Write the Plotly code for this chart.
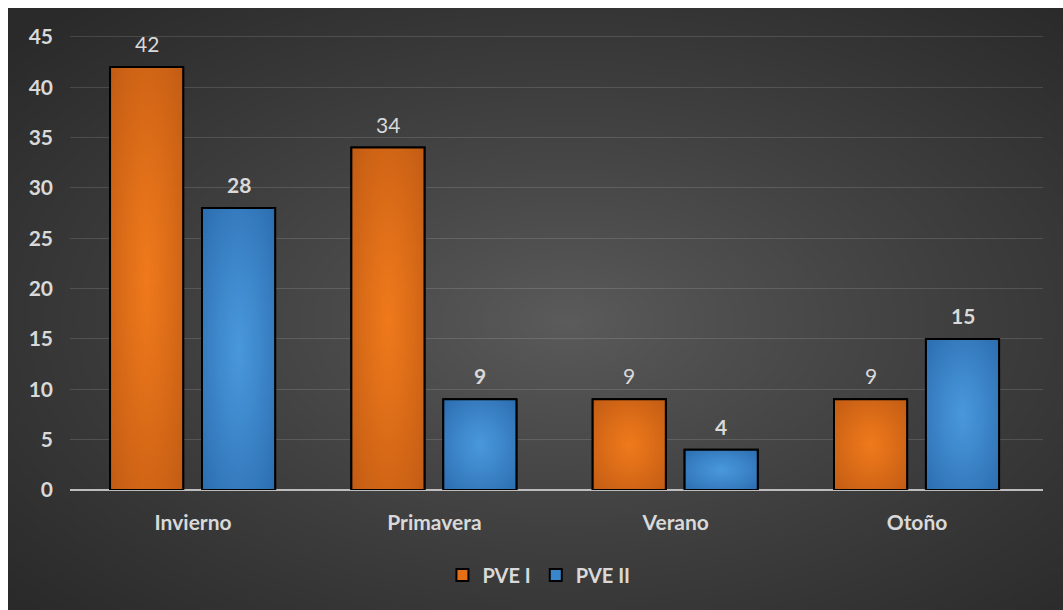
import base64
import struct
import zlib

import numpy as np
import plotly.graph_objects as go

# ---- data ----
seasons = ["Invierno", "Primavera", "Verano", "Otoño"]
pve_1 = [42, 34, 9, 9]
pve_2 = [28, 9, 4, 15]
y_ticks = [0, 5, 10, 15, 20, 25, 30, 35, 40, 45]

# ---- geometry / style ----
W, H = 1063, 610
BAR_W = 0.303
OFFSETS = {"PVE I": -0.344, "PVE II": 0.037}
FONT = "Lato"
TXT = "#d9d9d9"


def png_uri(rgb):
    """Encode an HxWx3 uint8 array as a PNG data URI (no external deps)."""
    h, w, _ = rgb.shape
    raw = b"".join(b"\x00" + rgb[r].tobytes() for r in range(h))

    def chunk(tag, data):
        body = struct.pack(">I", len(data)) + tag + data
        return body + struct.pack(">I", zlib.crc32(tag + data) & 0xFFFFFFFF)

    png = (b"\x89PNG\r\n\x1a\n"
           + chunk(b"IHDR", struct.pack(">IIBBBBB", w, h, 8, 2, 0, 0, 0))
           + chunk(b"IDAT", zlib.compress(raw, 9))
           + chunk(b"IEND", b""))
    return "data:image/png;base64," + base64.b64encode(png).decode()


def radial(w, h, inner, outer, cx=0.5, cy=0.5, power=1.0):
    yy, xx = np.mgrid[0:h, 0:w]
    dx = (xx + 0.5) / w - cx
    dy = (yy + 0.5) / h - cy
    d = np.sqrt((dx / 0.5) ** 2 + (dy / 0.5) ** 2) / np.sqrt(2)
    d = np.clip(d, 0, 1) ** power
    inner = np.array(inner, float)
    outer = np.array(outer, float)
    img = inner[None, None, :] * (1 - d[..., None]) + outer[None, None, :] * d[..., None]
    return np.clip(img, 0, 255).astype(np.uint8)


bg_uri = png_uri(radial(420, 240, (92, 92, 92), (42, 42, 42), cx=0.53, cy=0.52, power=0.85))
orange_uri = png_uri(radial(40, 120, (240, 122, 28), (194, 92, 20), power=1.1))
blue_uri = png_uri(radial(40, 120, (74, 152, 221), (44, 110, 176), power=1.1))

idx = np.arange(len(seasons))

fig = go.Figure()
series = [("PVE I", pve_1, "#e56f17", orange_uri, False),
          ("PVE II", pve_2, "#3a86cb", blue_uri, True)]

for name, vals, color, uri, bold in series:
    fig.add_trace(go.Bar(
        name=name, x=idx, y=vals, width=BAR_W, offset=OFFSETS[name],
        marker=dict(color=color, line=dict(color="#000000", width=2)),
        hoverinfo="x+y",
    ))

images = [dict(source=bg_uri, xref="paper", yref="paper",
               x=8 / W, y=1 - 8 / H, sizex=1 - 8 / W, sizey=1 - 8 / H,
               xanchor="left", yanchor="top", sizing="stretch", layer="below")]
shapes = []
annotations = []
for name, vals, color, uri, bold in series:
    for i, v in zip(idx, vals):
        x0 = i + OFFSETS[name]
        images.append(dict(source=uri, xref="x", yref="y", x=x0, y=v,
                           sizex=BAR_W, sizey=v, xanchor="left", yanchor="top",
                           sizing="stretch", layer="above"))
        shapes.append(dict(type="rect", xref="x", yref="y", x0=x0, x1=x0 + BAR_W,
                           y0=0, y1=v, line=dict(color="#000000", width=2),
                           fillcolor="rgba(0,0,0,0)", layer="above"))
        annotations.append(dict(
            x=x0 + BAR_W / 2, y=v, xref="x", yref="y", yanchor="bottom",
            yshift=9, showarrow=False,
            text=f"<b>{v}</b>" if bold else str(v),
            font=dict(family=FONT, size=21, color=TXT)))

fig.update_layout(
    width=W, height=H,
    margin=dict(l=0, r=0, t=0, b=0, autoexpand=False),
    paper_bgcolor="#ffffff",
    plot_bgcolor="rgba(0,0,0,0)",
    images=images, shapes=shapes, annotations=annotations,
    barmode="group",
    showlegend=True,
    legend=dict(orientation="h", x=0.507, xanchor="center", y=1 - 575 / H,
                yanchor="middle", bgcolor="rgba(0,0,0,0)",
                font=dict(family=FONT, size=20, color=TXT, weight="bold"),
                itemwidth=30, traceorder="normal"),
    font=dict(family=FONT, color=TXT),
)

fig.update_xaxes(
    domain=[70 / W, 1042.5 / W], range=[-0.51, 3.52], automargin=False,
    tickvals=idx, ticktext=seasons, ticks="", showgrid=False,
    zeroline=False, showline=False, ticklabelstandoff=18,
    tickfont=dict(family=FONT, size=21, color=TXT, weight="bold"),
)
fig.update_yaxes(
    domain=[1 - 490 / H, 1 - 32.8 / H], range=[0, 45.4], automargin=False,
    tickvals=y_ticks, ticks="", showgrid=True,
    gridcolor="rgba(255,255,255,0.13)", gridwidth=1,
    zeroline=True, zerolinecolor="#bdbdbd", zerolinewidth=2,
    showline=False, ticklabelstandoff=16,
    tickfont=dict(family=FONT, size=21, color=TXT, weight="bold"),
)

fig.write_html("out.html")
